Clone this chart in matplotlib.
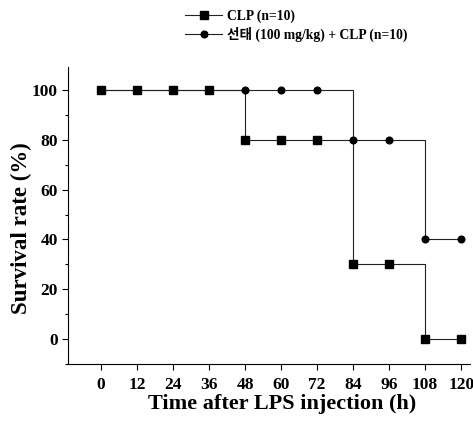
import matplotlib
matplotlib.use("Agg")
from matplotlib import pyplot as plt
from matplotlib.ticker import MultipleLocator

plt.rcParams['font.family'] = ['Liberation Serif', 'Noto Sans CJK KR']
plt.rcParams['font.weight'] = 'bold'

hours = [0, 12, 24, 36, 48, 60, 72, 84, 96, 108, 120]
clp = [100, 100, 100, 100, 80, 80, 80, 30, 30, 0, 0]
treated = [100, 100, 100, 100, 100, 100, 100, 80, 80, 40, 40]
labels = ['CLP (n=10)', '선태 (100 mg/kg) + CLP (n=10)']

fig = plt.figure(figsize=(4.73, 4.21), dpi=100)
ax = fig.add_axes([0.144, 0.135, 0.85, 0.705])

ax.plot(hours, clp, drawstyle='steps-post', color='#222222', lw=0.8,
        marker='s', markersize=5.8, markerfacecolor='black',
        markeredgecolor='black', label=labels[0])
ax.plot(hours, treated, drawstyle='steps-post', color='#222222', lw=0.8,
        marker='o', markersize=4.8, markerfacecolor='black',
        markeredgecolor='black', label=labels[1])

ax.set_xlim(-11, 123)
ax.set_ylim(-10, 109)
ax.set_xticks(hours)
ax.set_yticks(range(0, 101, 20))
ax.yaxis.set_minor_locator(MultipleLocator(10))
ax.spines['top'].set_visible(False)
ax.spines['right'].set_visible(False)
ax.tick_params(axis='both', which='major', labelsize=12.5, length=4, width=0.8)
ax.tick_params(axis='y', which='minor', length=2.5, width=0.8)
ax.tick_params(axis='x', pad=5)
for lab in ax.get_xticklabels() + ax.get_yticklabels():
    lab.set_fontweight('bold')

ax.set_xlabel('Time after LPS injection (h)', fontsize=16, fontweight='bold')
ax.xaxis.set_label_coords(0.532, -0.1)
ax.xaxis.label.set_va('top')
ax.set_ylabel('Survival rate (%)', fontsize=16.5, fontweight='bold')
ax.yaxis.set_label_coords(-0.09, 0.46)

fig.legend(loc='upper left', bbox_to_anchor=(0.372, 1.0), frameon=False,
           handlelength=2.7, handletextpad=0.37, labelspacing=0.25,
           borderaxespad=0.3, prop={'weight': 'bold', 'size': 9.8})

fig.savefig('out.png', dpi=100)
